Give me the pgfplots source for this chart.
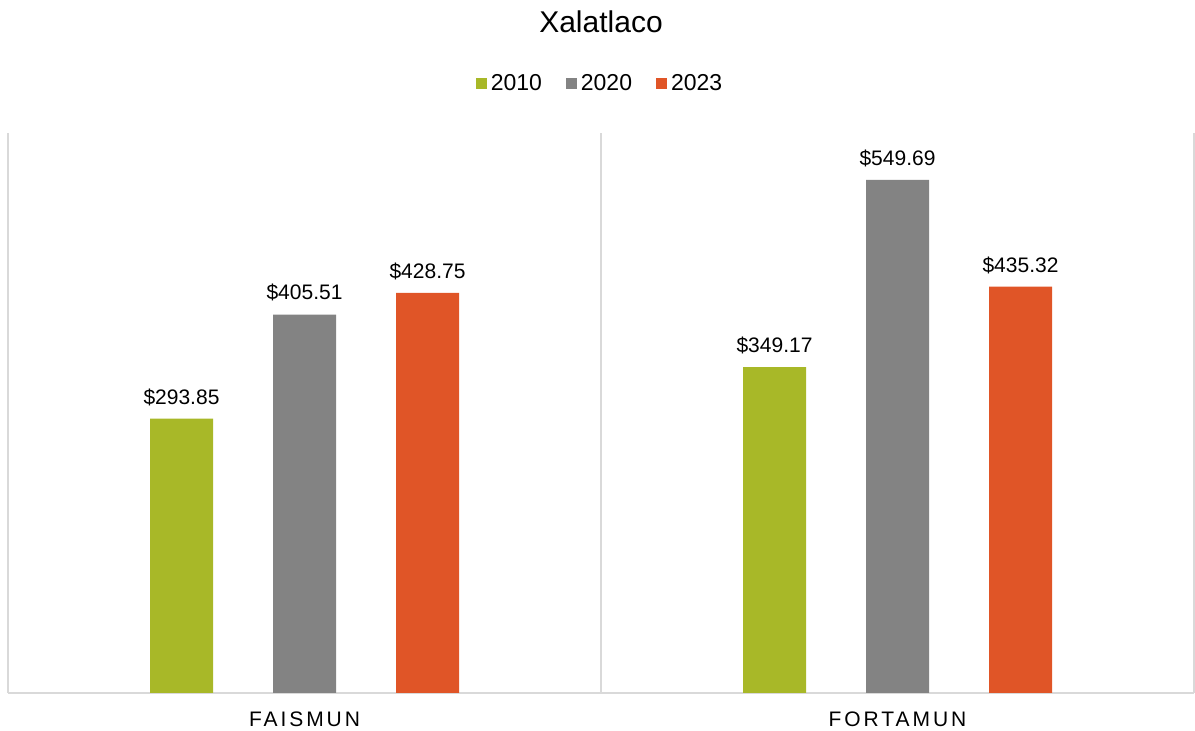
\documentclass[border=0pt]{standalone}
\usepackage{fontspec}
\setmainfont{Liberation Sans}
\usepackage{pgfplots}
\pgfplotsset{compat=1.18}
\definecolor{cgreen}{HTML}{A8B828}
\definecolor{cgray}{HTML}{838383}
\definecolor{corange}{HTML}{E05527}
\definecolor{cline}{HTML}{D9D9D9}
\newfontfamily\spaced[LetterSpace=14]{Liberation Sans}
\begin{document}
\begin{tikzpicture}
\useasboundingbox (-4pt,-19pt) rectangle (593.5pt,346.5pt);
\begin{axis}[
  scale only axis, width=593pt, height=280pt,
  ymin=0, ymax=600, xmin=-0.5, xmax=1.5,
  ybar=30pt, bar width=31.5pt,
  axis y line=none,
  axis x line=bottom,
  x axis line style={draw=cline, line width=1pt, -},
  xtick={0,1}, xticklabels={{\spaced FAISMUN},{\spaced FORTAMUN}},
  major tick length=0pt,
  xticklabel style={font=\fontsize{10.5}{12}\selectfont, yshift=-6pt, text=black},
  extra x ticks={-0.5,0.5,1.5}, extra x tick labels={},
  extra x tick style={grid=major, major grid style={draw=cline, line width=1pt}},
  /pgf/number format/assume math mode=true,
  nodes near coords={\$\pgfmathprintnumber[fixed, fixed zerofill, precision=2, assume math mode=true]{\pgfplotspointmeta}},
  nodes near coords style={font=\fontsize{10.5}{12}\selectfont, text=black, yshift=3pt},
  legend style={at={(0.5,1)}, anchor=center, yshift=24.5pt, draw=none, legend columns=3,
    font=\fontsize{11.5}{13}\selectfont,
    /tikz/every even column/.append style={column sep=10pt}},
  legend image code/.code={\fill[#1] (0pt,-2.75pt) rectangle (5.5pt,2.75pt);},
  title={Xalatlaco},
  title style={at={(0.5,1)}, anchor=center, yshift=49.5pt, font=\fontsize{15}{18}\selectfont},
]
\addplot[fill=cgreen, draw=none] coordinates {(0,293.85) (1,349.17)};
\addplot[fill=cgray, draw=none] coordinates {(0,405.51) (1,549.69)};
\addplot[fill=corange, draw=none] coordinates {(0,428.75) (1,435.32)};
\legend{2010,2020,2023}
\end{axis}
\end{tikzpicture}
\end{document}
